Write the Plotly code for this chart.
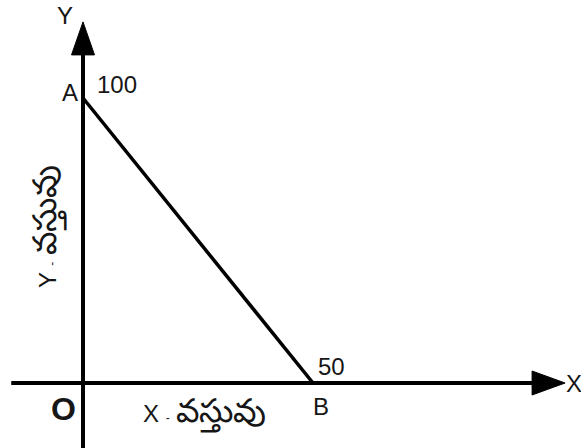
import plotly.graph_objects as go

# Data: budget line between two goods
line_x = [0, 50]          # A at x=0, B at x=50
line_y = [100, 0]         # A at y=100, B at y=0
point_labels = ["A", "B"]
value_labels = ["100", "50"]
x_axis_letter, y_axis_letter = "X", "Y"
good_word = "వస్తువు"
origin_label = "O"

# axis extents (data units)
x_axis_from, x_axis_to = -15.6, 104.8
y_axis_from, y_axis_to = -30, 126.7

W, H = 581, 448
FONT = "Liberation Sans, Arial, sans-serif"
TXT = "#161616"

fig = go.Figure()

# axis lines
fig.add_shape(type="line", x0=x_axis_from, x1=x_axis_to - 6, y0=0, y1=0,
              line=dict(color="black", width=4), layer="above")
fig.add_shape(type="line", x0=0, x1=0, y0=y_axis_from, y1=y_axis_to - 10,
              line=dict(color="black", width=4), layer="above")
# arrow heads (pixel-sized paths anchored at axis tips)
fig.add_shape(type="path", xsizemode="pixel", ysizemode="pixel",
              xanchor=x_axis_to, yanchor=0,
              path="M0,0 L-33,12 L-33,-12 Z",
              fillcolor="black", line=dict(color="black", width=1), layer="above")
fig.add_shape(type="path", xsizemode="pixel", ysizemode="pixel",
              xanchor=0, yanchor=y_axis_to,
              path="M0,0 L-11.5,-33 L11.5,-33 Z",
              fillcolor="black", line=dict(color="black", width=1), layer="above")

fig.add_trace(go.Scatter(x=line_x, y=line_y, mode="lines",
                         line=dict(color="black", width=3.5),
                         hoverinfo="skip", showlegend=False))

def ann(text, x, y, dx, dy, size=24, bold=False, angle=0):
    fig.add_annotation(x=x, y=y, text=("<b>%s</b>" % text) if bold else text,
                       showarrow=False, xshift=dx, yshift=dy, textangle=angle,
                       font=dict(family=FONT, size=size, color=TXT))

def title(letter):
    return '%s <span style="font-size:12px">-</span> <span style="font-size:33px">%s</span>' % (letter, good_word)

ann(point_labels[0], line_x[0], line_y[0], -13, 6)
ann(value_labels[0], line_x[0], line_y[0], 34, 14)
ann(point_labels[1], line_x[1], line_y[1], 8, -23)
ann(value_labels[1], line_x[1], line_y[1], 18, 17)
ann(origin_label, 0, 0, -20, -26, size=32, bold=True)
ann(y_axis_letter, 0, y_axis_to, -18, 6)
ann(x_axis_letter, x_axis_to, 0, 9, 0)
ann(title(x_axis_letter), 0, 0, 121, -29)
ann(title(y_axis_letter), 0, (383 - 227) / 2.85, -37, 0, angle=-90)

fig.update_layout(
    width=W, height=H, margin=dict(l=0, r=0, t=0, b=0),
    paper_bgcolor="white", plot_bgcolor="white",
    xaxis=dict(range=[-83 / 4.6, (W - 83) / 4.6], visible=False, fixedrange=True),
    yaxis=dict(range=[-(H - 383) / 2.85, 383 / 2.85], visible=False, fixedrange=True),
    showlegend=False,
)

fig.write_html("out.html", config={"displayModeBar": False},
               post_script="document.body.style.margin='0px';document.body.style.overflow='hidden';")
